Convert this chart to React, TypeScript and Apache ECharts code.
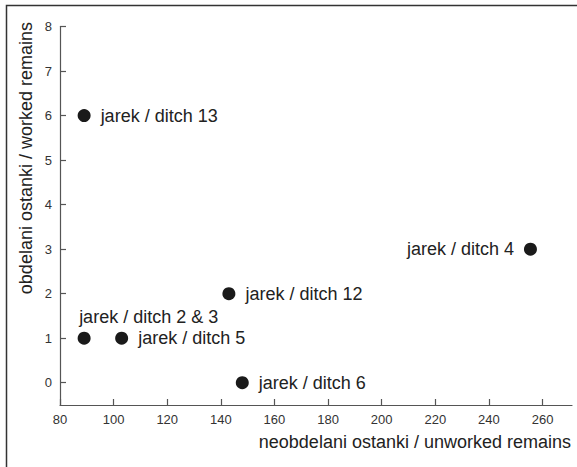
import React, { useEffect, useRef } from "react";
import * as echarts from "echarts";

const labels = ["jarek / ditch 13", "jarek / ditch 2 & 3", "jarek / ditch 5", "jarek / ditch 12", "jarek / ditch 6", "jarek / ditch 4"];
const unworked = [89, 89, 103, 143, 148, 255.5];
const worked = [6, 1, 1, 2, 0, 3];
const labelSides = ["right", "top", "right", "right", "right", "left"];
const xTickValues = [80, 100, 120, 140, 160, 180, 200, 220, 240, 260];
const yTickValues = [0, 1, 2, 3, 4, 5, 6, 7, 8];
const xRange = [80, 271];
const yRange = [-0.5, 8];
const xName = "neobdelani ostanki / unworked remains";
const yName = "obdelani ostanki / worked remains";

const FONT = "'Liberation Sans', Arial, Helvetica, sans-serif";

export default function App() {
  const ref = useRef<HTMLDivElement>(null);
  useEffect(() => {
    const chart = echarts.init(ref.current!, null, { renderer: "svg" });
    const data = unworked.map((x, i) => {
      const side = labelSides[i];
      const label: any = { show: true, formatter: labels[i], position: side, distance: 10 };
      if (side === "top") {
        label.align = "left";
        label.offset = [-5, 0];
        label.distance = 6;
      }
      return { value: [x, worked[i]], label };
    });
    chart.setOption({
      animation: false,
      backgroundColor: "#fff",
      textStyle: { fontFamily: FONT },
      graphic: [
        {
          type: "rect",
          shape: { x: 6.5, y: 5.5, width: 620, height: 520 },
          style: { fill: "none", stroke: "#333", lineWidth: 1.5 },
          silent: true,
          z: 0,
        },
        {
          type: "text",
          x: 26,
          y: 22,
          rotation: Math.PI / 2,
          style: {
            text: yName,
            fontSize: 18,
            fontFamily: FONT,
            fill: "#222",
            align: "right",
            verticalAlign: "middle",
          },
        },
        {
          type: "text",
          x: 571,
          y: 442,
          style: {
            text: xName,
            fontSize: 18,
            fontFamily: FONT,
            fill: "#222",
            align: "right",
            verticalAlign: "middle",
          },
        },
      ],
      grid: { left: 60, right: 5, top: 26.5, bottom: 62, containLabel: false },
      xAxis: {
        type: "value",
        min: xRange[0],
        max: xRange[1],
        splitLine: { show: false },
        axisLine: { show: true, onZero: false, lineStyle: { color: "#555", width: 1.2 } },
        axisTick: { show: true, inside: true, length: 6, customValues: xTickValues, lineStyle: { color: "#555", width: 1.2 } },
        axisLabel: {
          color: "#333",
          fontSize: 13,
          margin: 8,
          fontFamily: FONT,
          customValues: xTickValues,
        },
      },
      yAxis: {
        type: "value",
        min: yRange[0],
        max: yRange[1],
        splitLine: { show: false },
        axisLine: { show: true, onZero: false, lineStyle: { color: "#555", width: 1.2 } },
        axisTick: { show: true, inside: true, length: 6, customValues: yTickValues, lineStyle: { color: "#555", width: 1.2 } },
        axisLabel: {
          color: "#333",
          fontSize: 13,
          margin: 8,
          fontFamily: FONT,
          customValues: yTickValues,
        },
      },
      series: [
        {
          type: "scatter",
          symbol: "circle",
          symbolSize: 13,
          itemStyle: { color: "#1a1a1a", opacity: 1 },
          label: { color: "#222", fontSize: 18, fontFamily: FONT },
          data,
        },
      ],
    });
    return () => chart.dispose();
  }, []);
  return <div ref={ref} style={{ width: 577, height: 467, position: "absolute", left: 0, top: 0 }} />;
}
